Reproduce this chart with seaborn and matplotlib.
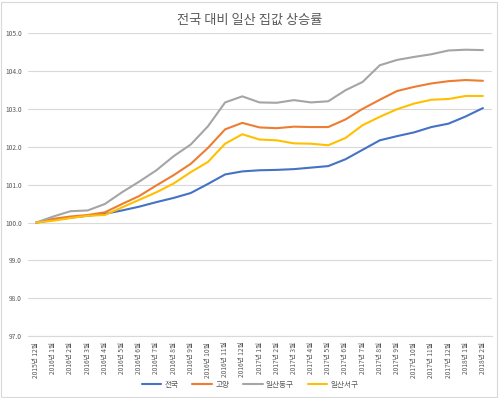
import numpy as np
import pandas as pd
import seaborn as sns
import matplotlib.pyplot as plt

# months: 2015-12 .. 2018-02
months = ["2015년 12월"] + [f"2016년 {m}월" for m in range(1, 13)] + \
         [f"2017년 {m}월" for m in range(1, 13)] + ["2018년 1월", "2018년 2월"]

jeonguk = [100.0, 100.07, 100.13, 100.18, 100.23, 100.32, 100.42, 100.54, 100.65,
           100.78, 101.02, 101.27, 101.35, 101.38, 101.39, 101.41, 101.45, 101.49,
           101.67, 101.92, 102.17, 102.28, 102.38, 102.52, 102.61, 102.80, 103.02]
goyang = [100.0, 100.10, 100.16, 100.20, 100.27, 100.49, 100.70, 100.98, 101.25,
          101.55, 101.97, 102.46, 102.63, 102.51, 102.49, 102.53, 102.52, 102.52,
          102.72, 103.00, 103.24, 103.47, 103.58, 103.67, 103.73, 103.76, 103.74]
ilsan_dong = [100.0, 100.16, 100.30, 100.32, 100.49, 100.80, 101.08, 101.38, 101.75,
              102.06, 102.54, 103.17, 103.33, 103.17, 103.16, 103.23, 103.17, 103.20,
              103.49, 103.71, 104.15, 104.29, 104.37, 104.44, 104.54, 104.56, 104.55]
ilsan_seo = [100.0, 100.05, 100.12, 100.18, 100.20, 100.40, 100.60, 100.80, 101.03,
             101.33, 101.60, 102.08, 102.33, 102.19, 102.17, 102.09, 102.08, 102.04,
             102.23, 102.57, 102.79, 102.99, 103.14, 103.24, 103.26, 103.34, 103.34]

series_names = ["전국", "고양", "일산동구", "일산서구"]
colors = ["#4472C4", "#ED7D31", "#A5A5A5", "#FFC000"]

sns.set_style("white")
plt.rcParams['font.family'] = ['Noto Sans CJK KR', 'DejaVu Sans']

frames = []
for name, vals in zip(series_names, [jeonguk, goyang, ilsan_dong, ilsan_seo]):
    frames.append(pd.DataFrame({"idx": range(len(months)), "value": vals, "series": name}))
df = pd.concat(frames)

fig = plt.figure(figsize=(5.0, 3.98), dpi=100)
ax = fig.add_axes([0.055, 0.155, 0.928, 0.762])

sns.lineplot(data=df, x="idx", y="value", hue="series", hue_order=series_names,
             palette=colors, linewidth=1.5, ax=ax, legend=False)

ax.set_xlim(-0.5, len(months) - 0.5)
ax.set_ylim(97, 105)
ax.set_yticks(np.arange(97, 105.1, 1))
ax.set_yticklabels([f"{v:.1f}" for v in np.arange(97, 105.1, 1)])
ax.set_xticks(range(len(months)))
ax.set_xticklabels(months, rotation=90)
ax.tick_params(axis="both", labelsize=4.8, colors="#595959", length=0, pad=4)
ax.grid(axis="y", color="#D9D9D9", linewidth=0.8)
ax.set_xlabel("")
ax.set_ylabel("")
for s in ["top", "right", "left"]:
    ax.spines[s].set_visible(False)
ax.spines["bottom"].set_color("#D9D9D9")

fig.suptitle("전국 대비 일산 집값 상승률", y=0.965, fontsize=9.5, color="#595959")

handles = [plt.Line2D([], [], color=c, linewidth=1.5) for c in colors]
fig.legend(handles, series_names, loc="center", bbox_to_anchor=(0.5, 0.033), ncol=4,
           frameon=False, fontsize=5.5, handlelength=2.6, handletextpad=0.4,
           columnspacing=1.8, labelcolor="#595959")

# thin chart border like excel
fig.patches.append(plt.Rectangle((0.002, 0.002), 0.992, 0.992, transform=fig.transFigure,
                                 fill=False, edgecolor="#D9D9D9", linewidth=0.8))

fig.savefig("out.png", dpi=100)
